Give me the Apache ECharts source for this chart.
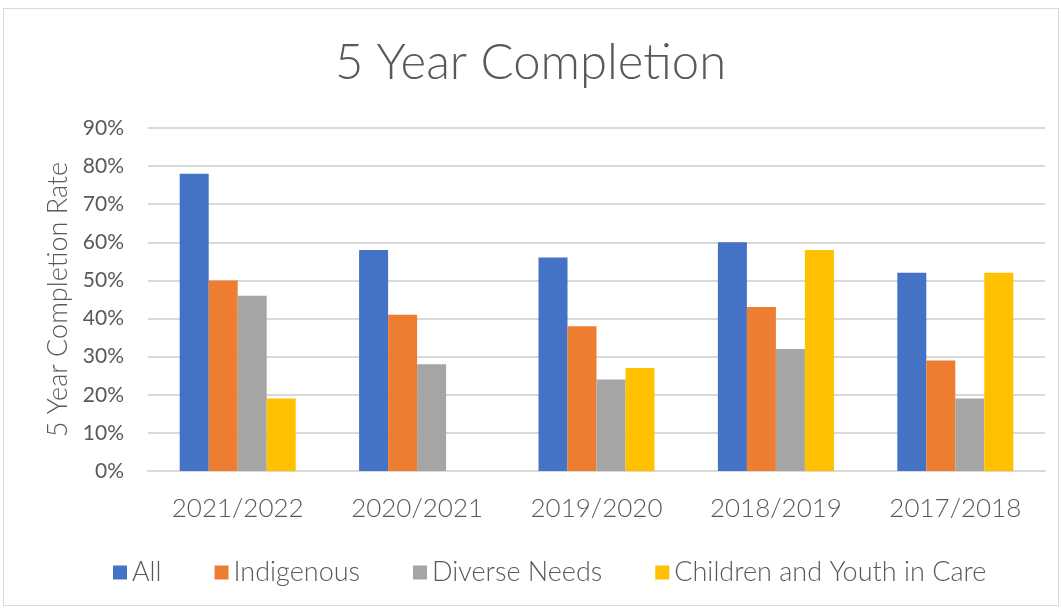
<!DOCTYPE html>
<html>
<head>
<meta charset="utf-8">
<script src="https://cdn.jsdelivr.net/npm/echarts@6/dist/echarts.min.js"></script>
<style>
html,body{margin:0;padding:0;background:#fff;}
#frame{position:absolute;left:3px;top:8px;width:1056px;height:598px;border:1px solid #d9d9d9;box-sizing:border-box;}
#chart{position:absolute;left:0;top:0;width:1061px;height:610px;}
</style>
</head>
<body>
<div id="frame"></div>
<div id="chart"></div>
<script>
const categories = ['2021/2022','2020/2021','2019/2020','2018/2019','2017/2018'];
const allValues = [78, 58, 56, 60, 52];
const indigenous = [50, 41, 38, 43, 29];
const diverseNeeds = [46, 28, 24, 32, 19];
const childrenYouthCare = [19, null, 27, 58, 52];
const yTicks = [0,10,20,30,40,50,60,70,80,90];

const font = 'Lato, "Open Sans", sans-serif';
const chart = echarts.init(document.getElementById('chart'), null, {renderer:'canvas'});
const mk = (name, data, color) => ({
  name, type:'bar', data, barWidth:29, barGap:'0%',
  itemStyle:{color}
});
chart.setOption({
  animation:false,
  title:{text:'5 Year Completion', left:'center', top:34,
    textStyle:{fontFamily:font, fontSize:49, fontWeight:300, color:'#595959'}},
  legend:{bottom:19, left:108, itemWidth:14, itemHeight:14, itemGap:53,
    icon:'rect',
    textStyle:{fontFamily:font, fontSize:27, fontWeight:300, color:'#595959'},
    data:['All','Indigenous','Diverse Needs','Children and Youth in Care']},
  grid:{left:148, right:16, top:128, bottom:139},
  xAxis:{type:'category', data:categories,
    axisLine:{lineStyle:{color:'#d9d9d9', width:2}}, axisTick:{show:false},
    axisLabel:{fontFamily:font, fontSize:26, fontWeight:300, color:'#595959', margin:25}},
  yAxis:{type:'value', min:0, max:90, interval:10,
    name:'5 Year Completion Rate', nameLocation:'middle', nameGap:76,
    nameTextStyle:{fontFamily:font, fontSize:27, fontWeight:300, color:'#595959'},
    axisLabel:{fontFamily:font, fontSize:21, color:'#595959', margin:24,
      formatter: v => yTicks.includes(v) ? v + '%' : ''},
    splitLine:{lineStyle:{color:'#d9d9d9', width:2}},
    axisLine:{show:false}, axisTick:{show:false}},
  series:[
    mk('All', allValues, '#4472c4'),
    mk('Indigenous', indigenous, '#ed7d31'),
    mk('Diverse Needs', diverseNeeds, '#a5a5a5'),
    mk('Children and Youth in Care', childrenYouthCare, '#ffc000')
  ]
});
</script>
</body>
</html>
